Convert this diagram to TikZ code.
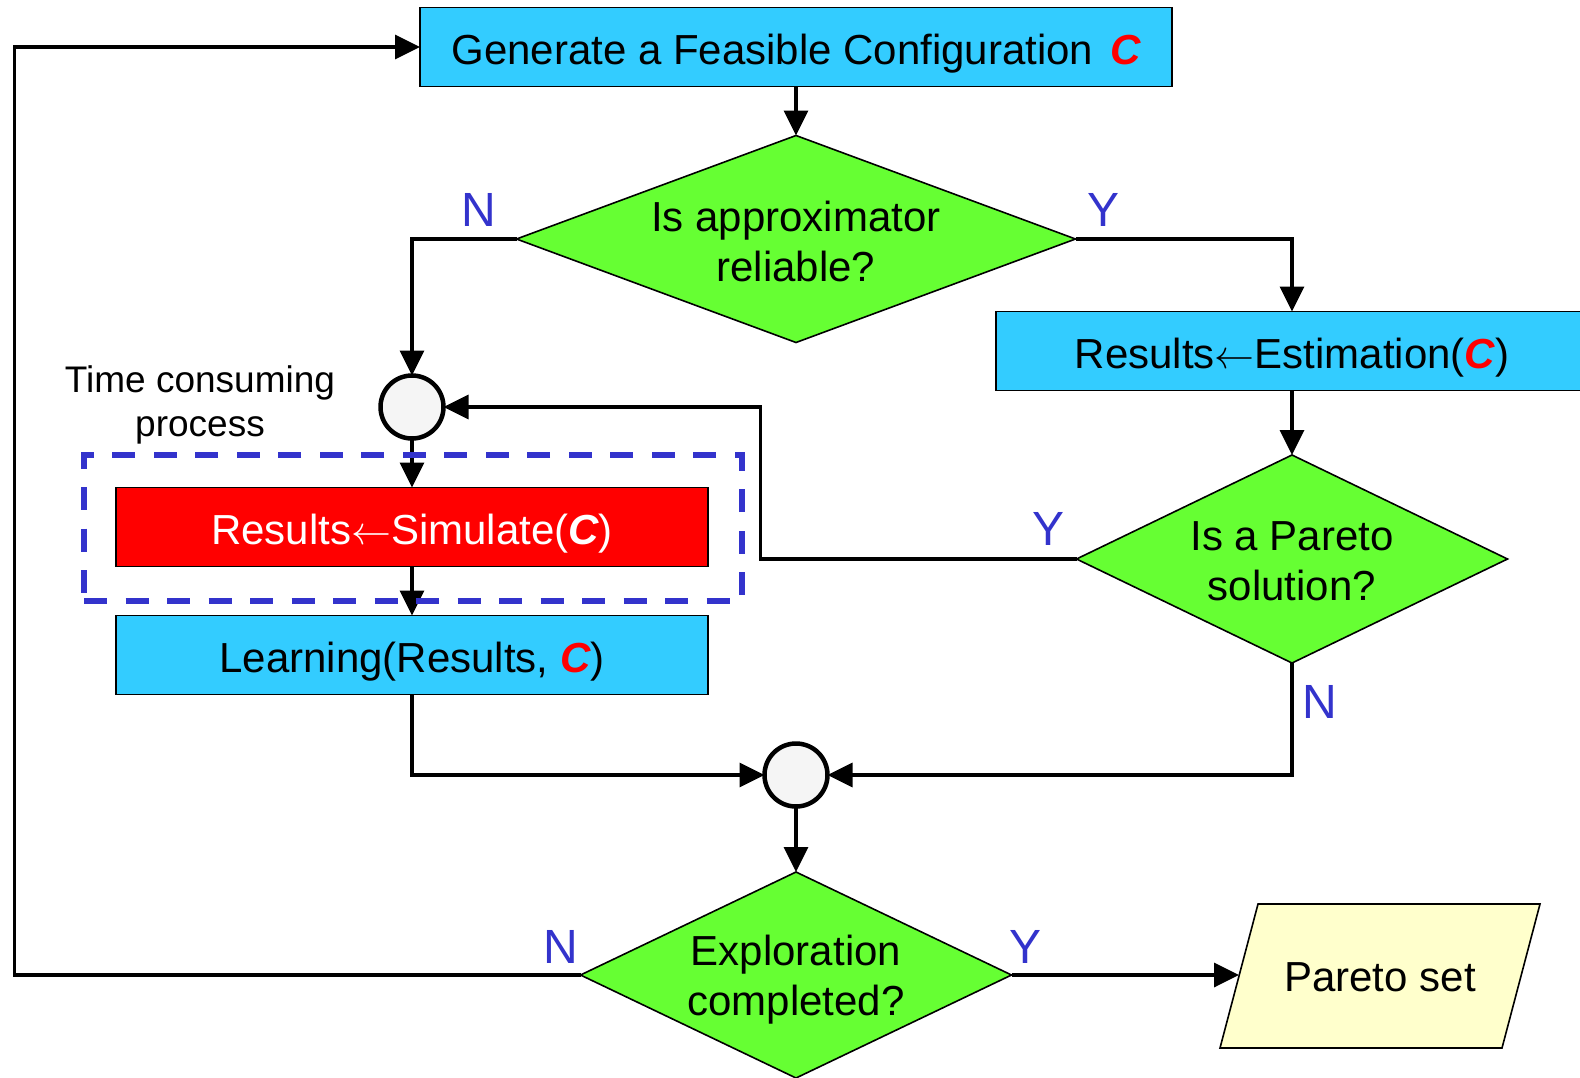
\documentclass[tikz,border=0pt]{standalone}
\usepackage{graphicx}
\usepackage{fontspec}
\setmainfont{Liberation Sans}
\usetikzlibrary{shapes.geometric,arrows.meta,calc}
\definecolor{boxcyan}{HTML}{33CCFF}
\definecolor{diagreen}{HTML}{66FF33}
\definecolor{simred}{HTML}{FF0000}
\definecolor{setyellow}{HTML}{FFFFCC}
\definecolor{ynblue}{HTML}{3333CC}
\definecolor{joinfill}{HTML}{F5F5F5}
\newcommand{\cred}{{\color{red}\bfseries\itshape C}}
\newcommand{\cwhite}{{\bfseries\itshape C}}
\newcommand{\getsarrow}{{\normalsize\scalebox{4}{$\leftarrow$}}}
\begin{document}
\begin{tikzpicture}[x=1pt,y=-1pt,
  every node/.style={inner sep=0pt, outer sep=0pt},
  bigfont/.style={font=\fontsize{42}{50}\selectfont},
  procbox/.style={draw=black, line width=1.6pt, fill=boxcyan, minimum height=79pt,
                  text height=34pt, text depth=0pt, bigfont},
  decide/.style={draw=black, line width=1.6pt, fill=diagreen, shape=diamond},
  dtext/.style={align=center, bigfont},
  mergept/.style={circle, draw=black, line width=4.5pt, fill=joinfill, minimum size=63pt},
  flow/.style={line width=3.5pt, -{Triangle[length=25pt,width=24pt]}},
  yn/.style={text=ynblue, font=\fontsize{48}{48}\selectfont},
]
\useasboundingbox (0,0) rectangle (1580,1077);

% process boxes and decisions
\node[procbox, minimum width=752pt] (gen) at (796,47) {Generate a Feasible Configuration\hspace{0.4em}\cred};
\node[decide, minimum width=559pt, minimum height=207pt] (qa) at (796,239) {};
\node[dtext] (qat) at (796,241) {Is approximator\\reliable?};

\node[procbox, minimum width=592pt] (est) at (1292,351) {Results\getsarrow Estimation(\cred)};
\node[decide, minimum width=431pt, minimum height=208pt] (qp) at (1292,559) {};
\node[dtext] (qpt) at (1292,561) {Is a Pareto\\solution?};

\node[mergept] (j1) at (412,407) {};
\node[procbox, fill=simred, text=white, minimum width=592pt] (sim) at (412,527) {Results\getsarrow Simulate(\cwhite)};
\node[procbox, minimum width=592pt] (learn) at (412,655) {Learning(Results, \cred)};

\node[mergept] (j2) at (796,775) {};
\node[decide, minimum width=431pt, minimum height=206pt] (qe) at (796,975) {};
\node[dtext] (qet) at (796,980) {Exploration\\completed?};

% output parallelogram: the node is its inner rectangle, the slanted outline is drawn round it
\node[minimum width=282pt, minimum height=144pt] (pset) at (1380,976) {};
\draw[line width=1.6pt, fill=setyellow]
  ($(pset.north west)+(19,0)$) -- ($(pset.north east)+(19,0)$) --
  ($(pset.south east)+(-19,0)$) -- ($(pset.south west)+(-19,0)$) -- cycle;
\node[bigfont] (psettxt) at (1380,977) {Pareto set};

% annotation
\node[align=center, font=\fontsize{37}{44}\selectfont] (tc) at (200,405) {Time consuming\\process};

% connectors
\draw[flow] (gen.south) -- (qa.north);
\draw[flow] (qa.west) -| (j1.north);
\draw[flow] (qa.east) -| (est.north);
\draw[flow] (est.south) -- (qp.north);
\draw[flow] (qp.west) -- ++(-316,0) |- (j1.east);
\draw[flow] (qp.south) |- (j2.east);
\draw[flow] (j1.south) -- (sim.north);
\draw[flow] (sim.south) -- (learn.north);
\draw[flow] (learn.south) |- (j2.west);
\draw[flow] (j2.south) -- (qe.north);
\draw[flow] (qe.west) -- ++(-566,0) |- (gen.west);
\draw[flow] (qe.east) -- (qe.east -| pset.west);

% costly step frame
\node[draw=ynblue, line width=6pt, dash pattern=on 23pt off 18.5pt, minimum width=658pt, minimum height=146pt] (slow) at (413,528) {};

% branch labels
\node[yn] (n1) at (479,210) {N};
\node[yn] (y1) at (1103,210) {Y};
\node[yn] (y2) at (1048,529) {Y};
\node[yn] (n2) at (1320,702) {N};
\node[yn] (n3) at (561,947) {N};
\node[yn] (y3) at (1025,947) {Y};
\end{tikzpicture}
\end{document}
